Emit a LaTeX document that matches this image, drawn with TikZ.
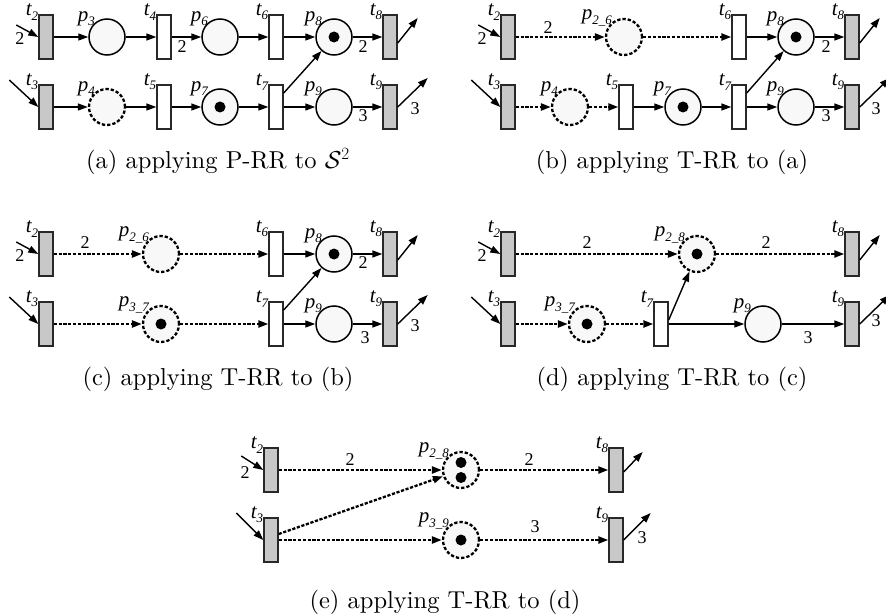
\documentclass[tikz,border=0pt]{standalone}
\usepackage{fix-cm}
\usepackage{fontspec}
\newfontfamily\tnr{Liberation Serif}
\newfontfamily\capfont{lmroman10-regular.otf}
\usetikzlibrary{arrows.meta,calc}
\newcommand\subtx[1]{\raisebox{-0.22em}{\fontsize{13}{13}\selectfont #1}}
\newcommand\mkTL[3]{\node[lbl,anchor=south east] (#1-l) at ($(#1.north west)+(0,6)$) {#2\subtx{#3}};}
\newcommand\mkPL[3]{\node[lbl,anchor=south east] (#1-l) at ($(#1)+(-12,-11)$) {#2\subtx{#3}};}
\definecolor{tgray}{RGB}{200,200,200}
\definecolor{pfill}{RGB}{248,248,248}
\definecolor{edge}{RGB}{40,40,40}
\begin{document}
\begin{tikzpicture}[x=1pt,y=-1pt,
  trg/.style={draw=edge, fill=tgray, line width=1.4pt, minimum width=14pt, minimum height=44pt, inner sep=0},
  trw/.style={trg, fill=white},
  pl/.style={circle, draw=black, line width=1.5pt, fill=pfill, minimum size=36pt, inner sep=0},
  pld/.style={pl, line width=2.3pt, dash pattern=on 3.3pt off 2pt},
  tok/.style={circle, fill=black, minimum size=11pt, inner sep=0},
  arc/.style={-{Triangle[length=10pt,width=7pt]}, line width=1.4pt},
  darc/.style={arc, line width=2.3pt, dash pattern=on 3.2pt off 1.6pt},
  lbl/.style={font=\tnr\itshape\fontsize{21}{21}\selectfont, inner sep=0},
  num/.style={font=\tnr\fontsize{18}{18}\selectfont, inner sep=0},
  captxt/.style={font=\capfont\fontsize{24.5}{28}\selectfont, anchor=base, inner sep=0}]
\useasboundingbox (0,0) rectangle (886,615);

% ---------------- (a)
\node[trg] (a-t2) at (46,37) {};
\node[pl]  (a-p3) at (107,37) {};
\node[trw] (a-t4) at (164,37) {};
\node[pl]  (a-p6) at (220,37) {};
\node[trw] (a-t6) at (276,37) {};
\node[pl]  (a-p8) at (334,37) {};
\node[tok] (a-k8) at (a-p8) {};
\node[trg] (a-t8) at (390,37) {};
\node[trg] (a-t3) at (46,107) {};
\node[pld] (a-p4) at (107,107) {};
\node[trw] (a-t5) at (164,107) {};
\node[pl]  (a-p7) at (220,107) {};
\node[tok] (a-k7) at (a-p7) {};
\node[trw] (a-t7) at (276,107) {};
\node[pl]  (a-p9) at (334,107) {};
\node[trg] (a-t9) at (390,107) {};
\mkTL{a-t2}{t}{2}\mkTL{a-t4}{t}{4}\mkTL{a-t6}{t}{6}\mkTL{a-t8}{t}{8}
\mkTL{a-t3}{t}{3}\mkTL{a-t5}{t}{5}\mkTL{a-t7}{t}{7}\mkTL{a-t9}{t}{9}
\mkPL{a-p3}{p}{3}\mkPL{a-p6}{p}{6}\mkPL{a-p8}{p}{8}
\mkPL{a-p4}{p}{4}\mkPL{a-p7}{p}{7}\mkPL{a-p9}{p}{9}
\coordinate (a-i2) at ($(a-t2.west)+(-22,-12)$);
\coordinate (a-i3) at ($(a-t3.west)+(-29,-27)$);
\coordinate (a-o8) at ($(a-t8.east)+(20,-19)$);
\coordinate (a-o9) at ($(a-t9.east)+(30,-29)$);
\draw[arc] (a-i2) -- (a-t2.west);
\draw[arc] (a-t2) -- (a-p3);
\draw[arc] (a-p3) -- (a-t4);
\draw[arc] (a-t4) -- (a-p6);
\draw[arc] (a-p6) -- (a-t6);
\draw[arc] (a-t6) -- (a-p8);
\draw[arc] (a-p8) -- (a-t8);
\draw[arc] ([yshift=-6pt]a-t8.east) -- (a-o8);
\draw[arc] (a-i3) -- (a-t3.west);
\draw[arc] (a-t3) -- (a-p4);
\draw[arc] (a-p4) -- (a-t5);
\draw[arc] (a-t5) -- (a-p7);
\draw[arc] (a-p7) -- (a-t7);
\draw[arc] (a-t7) -- (a-p9);
\draw[arc] (a-p9) -- (a-t9);
\draw[arc] ([yshift=14pt]a-t7.east) -- (a-p8);
\draw[arc] (a-t9.east) -- (a-o9);
\node[num] (a-n1) at (20,39) {2};
\node[num] (a-n2) at (182,47) {2};
\node[num] (a-n3) at (363,47) {2};
\node[num] (a-n4) at (363,116) {3};
\node[num] (a-n5) at (415,109) {3};
\node[captxt] (a-cap) at (218,168) {(a) applying P-RR to $\mathcal{S}^2$};

% ---------------- (b)
\node[trg] (b-t2) at (508,37) {};
\node[pld] (b-p26) at (624,37) {};
\node[trw] (b-t6) at (739,37) {};
\node[pl]  (b-p8) at (796,37) {};
\node[tok] (b-k8) at (b-p8) {};
\node[trg] (b-t8) at (852,37) {};
\node[trg] (b-t3) at (508,107) {};
\node[pld] (b-p4) at (570,107) {};
\node[trw] (b-t5) at (626,107) {};
\node[pl]  (b-p7) at (683,107) {};
\node[tok] (b-k7) at (b-p7) {};
\node[trw] (b-t7) at (739,107) {};
\node[pl]  (b-p9) at (796,107) {};
\node[trg] (b-t9) at (852,107) {};
\mkTL{b-t2}{t}{2}\mkTL{b-t6}{t}{6}\mkTL{b-t8}{t}{8}
\mkTL{b-t3}{t}{3}\mkTL{b-t5}{t}{5}\mkTL{b-t7}{t}{7}\mkTL{b-t9}{t}{9}
\mkPL{b-p26}{p}{2\_6}\mkPL{b-p8}{p}{8}
\mkPL{b-p4}{p}{4}\mkPL{b-p7}{p}{7}\mkPL{b-p9}{p}{9}
\coordinate (b-i2) at ($(b-t2.west)+(-22,-12)$);
\coordinate (b-i3) at ($(b-t3.west)+(-29,-27)$);
\coordinate (b-o8) at ($(b-t8.east)+(20,-19)$);
\coordinate (b-o9) at ($(b-t9.east)+(30,-29)$);
\draw[arc] (b-i2) -- (b-t2.west);
\draw[darc] (b-t2) -- (b-p26);
\draw[darc] (b-p26) -- (b-t6);
\draw[arc] (b-t6) -- (b-p8);
\draw[arc] (b-p8) -- (b-t8);
\draw[arc] ([yshift=-6pt]b-t8.east) -- (b-o8);
\draw[arc] (b-i3) -- (b-t3.west);
\draw[darc] (b-t3) -- (b-p4);
\draw[darc] (b-p4) -- (b-t5);
\draw[arc] (b-t5) -- (b-p7);
\draw[arc] (b-p7) -- (b-t7);
\draw[arc] (b-t7) -- (b-p9);
\draw[arc] (b-p9) -- (b-t9);
\draw[arc] ([yshift=14pt]b-t7.east) -- (b-p8);
\draw[arc] (b-t9.east) -- (b-o9);
\node[num] (b-n1) at (482,39) {2};
\node[num] (b-n2) at (548,28) {2};
\node[num] (b-n3) at (826,47) {2};
\node[num] (b-n4) at (826,116) {3};
\node[num] (b-n5) at (876,109) {3};
\node[captxt] (b-cap) at (672,168) {(b) applying T-RR to (a)};

% ---------------- (c)
\node[trg] (c-t2) at (46,254) {};
\node[pld] (c-p26) at (161,254) {};
\node[trw] (c-t6) at (276,254) {};
\node[pl]  (c-p8) at (334,254) {};
\node[tok] (c-k8) at (c-p8) {};
\node[trg] (c-t8) at (390,254) {};
\node[trg] (c-t3) at (46,324) {};
\node[pld] (c-p37) at (161,324) {};
\node[tok] (c-k37) at (c-p37) {};
\node[trw] (c-t7) at (276,324) {};
\node[pl]  (c-p9) at (334,324) {};
\node[trg] (c-t9) at (390,324) {};
\mkTL{c-t2}{t}{2}\mkTL{c-t6}{t}{6}\mkTL{c-t8}{t}{8}
\mkTL{c-t3}{t}{3}\mkTL{c-t7}{t}{7}\mkTL{c-t9}{t}{9}
\mkPL{c-p26}{p}{2\_6}\mkPL{c-p8}{p}{8}
\mkPL{c-p37}{p}{3\_7}\mkPL{c-p9}{p}{9}
\coordinate (c-i2) at ($(c-t2.west)+(-22,-12)$);
\coordinate (c-i3) at ($(c-t3.west)+(-29,-27)$);
\coordinate (c-o8) at ($(c-t8.east)+(20,-19)$);
\coordinate (c-o9) at ($(c-t9.east)+(30,-29)$);
\draw[arc] (c-i2) -- (c-t2.west);
\draw[darc] (c-t2) -- (c-p26);
\draw[darc] (c-p26) -- (c-t6);
\draw[arc] (c-t6) -- (c-p8);
\draw[arc] (c-p8) -- (c-t8);
\draw[arc] ([yshift=-6pt]c-t8.east) -- (c-o8);
\draw[arc] (c-i3) -- (c-t3.west);
\draw[darc] (c-t3) -- (c-p37);
\draw[darc] (c-p37) -- (c-t7);
\draw[arc] (c-t7) -- (c-p9);
\draw[arc] (c-p9) -- (c-t9);
\draw[arc] ([yshift=14pt]c-t7.east) -- (c-p8);
\draw[arc] (c-t9.east) -- (c-o9);
\node[num] (c-n1) at (20,256) {2};
\node[num] (c-n2) at (85,243) {2};
\node[num] (c-n3) at (363,263) {2};
\node[num] (c-n4) at (365,338) {3};
\node[num] (c-n5) at (415,326) {3};
\node[captxt] (c-cap) at (218,385) {(c) applying T-RR to (b)};

% ---------------- (d)
\node[trg] (d-t2) at (508,254) {};
\node[pld] (d-p28) at (697,254) {};
\node[tok] (d-k28) at (d-p28) {};
\node[trg] (d-t8) at (852,254) {};
\node[trg] (d-t3) at (508,324) {};
\node[pld] (d-p37) at (587,324) {};
\node[tok] (d-k37) at (d-p37) {};
\node[trw] (d-t7) at (661,324) {};
\node[pl]  (d-p9) at (763,324) {};
\node[trg] (d-t9) at (852,324) {};
\mkTL{d-t2}{t}{2}\mkTL{d-t8}{t}{8}
\mkTL{d-t3}{t}{3}\mkTL{d-t7}{t}{7}\mkTL{d-t9}{t}{9}
\mkPL{d-p28}{p}{2\_8}\mkPL{d-p37}{p}{3\_7}\mkPL{d-p9}{p}{9}
\coordinate (d-i2) at ($(d-t2.west)+(-22,-12)$);
\coordinate (d-i3) at ($(d-t3.west)+(-29,-27)$);
\coordinate (d-o8) at ($(d-t8.east)+(20,-19)$);
\coordinate (d-o9) at ($(d-t9.east)+(30,-29)$);
\draw[arc] (d-i2) -- (d-t2.west);
\draw[darc] (d-t2) -- (d-p28);
\draw[darc] (d-p28) -- (d-t8);
\draw[arc] ([yshift=-6pt]d-t8.east) -- (d-o8);
\draw[arc] (d-i3) -- (d-t3.west);
\draw[darc] (d-t3) -- (d-p37);
\draw[darc] (d-p37) -- (d-t7);
\draw[arc] (d-t7) -- (d-p9);
\draw[arc] (d-p9) -- (d-t9);
\draw[arc] ([yshift=4pt]d-t7.east) -- (d-p28);
\draw[arc] (d-t9.east) -- (d-o9);
\node[num] (d-n1) at (482,256) {2};
\node[num] (d-n2) at (587,243) {2};
\node[num] (d-n3) at (766,243) {2};
\node[num] (d-n4) at (808,338) {3};
\node[num] (d-n5) at (876,321) {3};
\node[captxt] (d-cap) at (672,385) {(d) applying T-RR to (c)};

% ---------------- (e)
\node[trg] (e-t2) at (271,470) {};
\node[pld] (e-p28) at (461,470) {};
\node[tok] (e-k28a) at (461,462.5) {};
\node[tok] (e-k28b) at (461,477.5) {};
\node[trg] (e-t8) at (616,470) {};
\node[trg] (e-t3) at (271,540) {};
\node[pld] (e-p39) at (461,540) {};
\node[tok] (e-k39) at (e-p39) {};
\node[trg] (e-t9) at (616,540) {};
\mkTL{e-t2}{t}{2}\mkTL{e-t8}{t}{8}
\mkTL{e-t3}{t}{3}\mkTL{e-t9}{t}{9}
\mkPL{e-p28}{p}{2\_8}\mkPL{e-p39}{p}{3\_9}
\coordinate (e-i2) at ($(e-t2.west)+(-22,-14)$);
\coordinate (e-i3) at ($(e-t3.west)+(-27,-27)$);
\coordinate (e-o8) at ($(e-t8.east)+(19,-18)$);
\coordinate (e-o9) at ($(e-t9.east)+(27,-27)$);
\draw[arc] (e-i2) -- (e-t2.west);
\draw[darc] (e-t2) -- (e-p28);
\draw[darc] (e-p28) -- (e-t8);
\draw[arc] ([yshift=-2pt]e-t8.east) -- (e-o8);
\draw[arc] (e-i3) -- (e-t3.west);
\draw[darc] ([yshift=6pt]e-t3.east) -- (e-p28);
\draw[darc] (e-t3) -- (e-p39);
\draw[darc] (e-p39) -- (e-t9);
\draw[arc] (e-t9.east) -- (e-o9);
\node[num] (e-n1) at (245,473) {2};
\node[num] (e-n2) at (350,460) {2};
\node[num] (e-n3) at (529,460) {2};
\node[num] (e-n4) at (535,527) {3};
\node[num] (e-n5) at (642,538) {3};
\node[captxt] (e-cap) at (445,608) {(e) applying T-RR to (d)};
\end{tikzpicture}
\end{document}
